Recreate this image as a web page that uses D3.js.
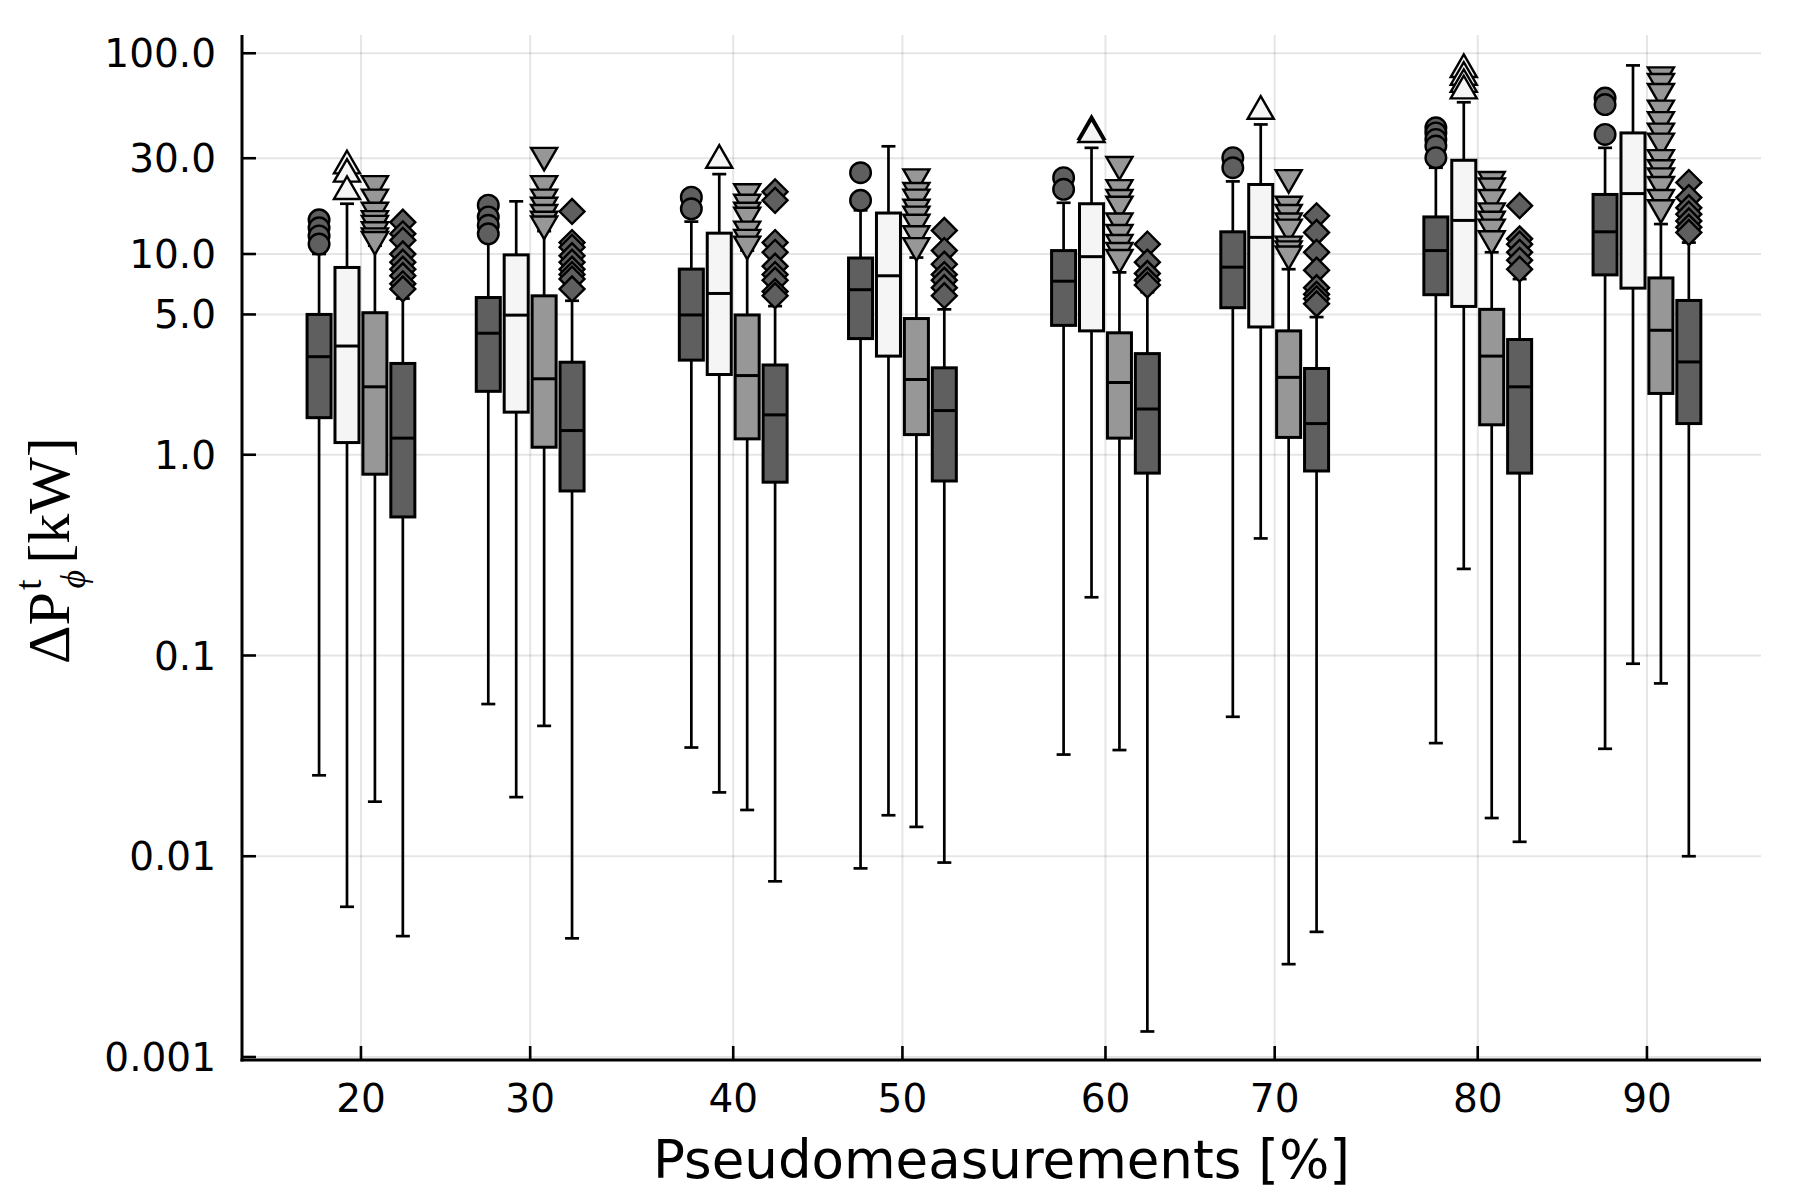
<!DOCTYPE html>
<html>
<head>
<meta charset="utf-8">
<script src="https://cdn.jsdelivr.net/npm/d3@7"></script>
<style>
  html, body { margin: 0; padding: 0; background: #ffffff; }
  svg { display: block; }
</style>
</head>
<body>
<div id="chart"></div>
<script>
// ---------------- data ----------------
const categories = ["20", "30", "40", "50", "60", "70", "80", "90"];
const groupPos = [0, 1, 2.2, 3.2, 4.4, 5.4, 6.6, 7.6];
const yTickValues = [0.001, 0.01, 0.1, 1, 5, 10, 30, 100];
const yTickLabels = ["0.001", "0.01", "0.1", "1.0", "5.0", "10.0", "30.0", "100.0"];
const xLabel = "Pseudomeasurements [%]";

// rows: series 1..4 ; columns: categories
const whiskerLow = [
  [0.0253, 0.0573, 0.0348, 0.0087, 0.0321, 0.0495, 0.0366, 0.0343],
  [0.0056, 0.0197, 0.0208, 0.016, 0.195, 0.383, 0.27, 0.091],
  [0.0187, 0.0446, 0.017, 0.014, 0.0338, 0.0029, 0.0155, 0.0726],
  [0.0040, 0.0039, 0.0075, 0.0093, 0.00134, 0.0042, 0.0118, 0.010]
];
const quartile1 = [
  [1.53, 2.07, 2.96, 3.79, 4.41, 5.4, 6.27, 7.87],
  [1.15, 1.63, 2.51, 3.1, 4.14, 4.33, 5.48, 6.76],
  [0.80, 1.09, 1.2, 1.26, 1.21, 1.22, 1.41, 2.02],
  [0.49, 0.66, 0.73, 0.74, 0.81, 0.83, 0.81, 1.43]
];
const medians = [
  [3.08, 4.03, 4.97, 6.64, 7.32, 8.6, 10.4, 12.9],
  [3.48, 4.96, 6.36, 7.79, 9.7, 12.1, 14.7, 20.0],
  [2.18, 2.39, 2.48, 2.37, 2.29, 2.43, 3.1, 4.17],
  [1.21, 1.32, 1.58, 1.66, 1.69, 1.43, 2.18, 2.9]
];
const quartile3 = [
  [5.0, 6.07, 8.41, 9.55, 10.4, 12.9, 15.3, 19.8],
  [8.57, 9.9, 12.7, 16.0, 17.8, 22.2, 29.3, 40.1],
  [5.1, 6.19, 4.97, 4.77, 4.05, 4.14, 5.3, 7.6],
  [2.85, 2.89, 2.8, 2.71, 3.19, 2.69, 3.75, 5.87]
];
const whiskerHigh = [
  [10.0, 11.6, 14.5, 16.5, 18.0, 23.0, 26.9, 33.8],
  [17.8, 18.3, 25.0, 34.4, 33.8, 44.2, 57.0, 87.0],
  [11.0, 13.0, 10.4, 9.6, 8.1, 8.4, 10.2, 14.1],
  [6.0, 5.85, 5.5, 5.3, 6.45, 4.85, 7.5, 11.4]
];
const outliers1 = [
  [14.8, 13.5, 12.3, 11.2],
  [17.5, 15.3, 13.9, 12.6],
  [19.2, 16.8],
  [25.4, 18.5],
  [24.0, 21.0],
  [30.2, 26.9],
  [42.5, 40.1, 37.2, 34.5, 30.2],
  [59.8, 55.5, 39.4]
];
const outliers2 = [
  [27.5, 25.0, 20.5],
  [],
  [29.3],
  [],
  [40.9, 39.4],
  [51.4],
  [83.0, 76.0, 70.0, 65.0],
  []
];
const outliers3 = [
  [22.4, 19.2, 16.5, 15.0, 14.2, 13.2, 12.3, 11.8],
  [31.0, 22.4, 19.2, 17.5, 16.1, 14.9, 14.1],
  [20.4, 18.1, 16.5, 15.6, 13.3, 12.1, 11.2],
  [24.2, 20.7, 19.2, 17.1, 15.8, 14.4, 12.6, 11.0],
  [27.9, 21.4, 19.1, 17.7, 14.6, 12.8, 11.4, 10.4, 9.6],
  [24.0, 17.7, 16.1, 14.6, 13.6, 11.2, 10.6, 10.0],
  [23.5, 21.8, 19.1, 16.4, 14.9, 13.6, 11.9],
  [78.0, 72.3, 64.5, 53.3, 46.7, 40.9, 36.5, 30.2, 26.9, 24.5, 22.2, 19.1, 17.0]
];
const outliers4 = [
  [14.4, 12.6, 11.7, 10.0, 9.1, 8.4, 7.8, 7.1, 6.7],
  [16.3, 11.4, 10.8, 9.8, 9.1, 8.4, 7.9, 7.5, 6.7],
  [20.4, 18.5, 11.4, 10.2, 8.7, 7.9, 7.4, 6.5, 6.2],
  [13.1, 10.4, 8.9, 7.9, 7.4, 6.8, 6.2],
  [11.2, 9.1, 8.0, 7.4, 7.0],
  [15.5, 12.8, 10.2, 8.3, 6.8, 6.3, 5.98, 5.65],
  [17.4, 11.9, 11.2, 10.2, 9.3, 8.4],
  [22.7, 19.1, 17.0, 15.8, 14.6, 13.6, 12.8]
];
const outliers = [outliers1, outliers2, outliers3, outliers4];

// ---------------- style ----------------
const W = 1800, H = 1200;
const fills = ["#5f5f5f", "#f5f5f5", "#979797", "#5f5f5f"];
const markerKinds = ["circle", "triangleUp", "triangleDown", "diamond"];
const boxWidth = 0.142;     // in x units
const boxStep = 0.165;      // in x units
const capHalf = 7;          // px

const svg = d3.select("#chart").append("svg")
  .attr("width", W).attr("height", H)
  .attr("viewBox", `0 0 ${W} ${H}`)
  .style("background", "#ffffff");

const x = d3.scaleLinear().domain([-0.703, 8.274]).range([242, 1761]);
const y = d3.scaleLog().domain([0.000966, 123.3]).range([1060, 35]);

const plotLeft = x.range()[0], plotRight = x.range()[1];
const plotTop = y.range()[1], plotBottom = y.range()[0];

// grid
const grid = svg.append("g");
grid.selectAll("line.gx").data(groupPos).join("line")
  .attr("x1", d => x(d)).attr("x2", d => x(d))
  .attr("y1", plotTop).attr("y2", plotBottom)
  .attr("stroke", "#000").attr("stroke-opacity", 0.1).attr("stroke-width", 2);
grid.selectAll("line.gy").data(yTickValues).join("line")
  .attr("x1", plotLeft).attr("x2", plotRight)
  .attr("y1", d => y(d)).attr("y2", d => y(d))
  .attr("stroke", "#000").attr("stroke-opacity", 0.1).attr("stroke-width", 2);

// symbols
function markerPath(kind) {
  if (kind === "circle") return d3.symbol(d3.symbolCircle, Math.PI * 10.3 * 10.3)();
  if (kind === "triangleUp" || kind === "triangleDown") return d3.symbol(d3.symbolTriangle, 295)();
  return d3.symbol(d3.symbolSquare, 310)();
}
function markerRotate(kind) {
  if (kind === "triangleDown") return 180;
  if (kind === "diamond") return 45;
  return 0;
}

// boxes
const plotG = svg.append("g");
for (let s = 0; s < 4; s++) {
  const off = (s - 1.5) * boxStep;
  const g = plotG.append("g");
  const idx = d3.range(categories.length);
  // whiskers
  g.selectAll("line.wl").data(idx).join("line")
    .attr("x1", i => x(groupPos[i] + off)).attr("x2", i => x(groupPos[i] + off))
    .attr("y1", i => y(whiskerLow[s][i])).attr("y2", i => y(quartile1[s][i]))
    .attr("stroke", "#000").attr("stroke-width", 2.7);
  g.selectAll("line.wh").data(idx).join("line")
    .attr("x1", i => x(groupPos[i] + off)).attr("x2", i => x(groupPos[i] + off))
    .attr("y1", i => y(whiskerHigh[s][i])).attr("y2", i => y(quartile3[s][i]))
    .attr("stroke", "#000").attr("stroke-width", 2.7);
  g.selectAll("line.cl").data(idx).join("line")
    .attr("x1", i => x(groupPos[i] + off) - capHalf).attr("x2", i => x(groupPos[i] + off) + capHalf)
    .attr("y1", i => y(whiskerLow[s][i])).attr("y2", i => y(whiskerLow[s][i]))
    .attr("stroke", "#000").attr("stroke-width", 2.7);
  g.selectAll("line.ch").data(idx).join("line")
    .attr("x1", i => x(groupPos[i] + off) - capHalf).attr("x2", i => x(groupPos[i] + off) + capHalf)
    .attr("y1", i => y(whiskerHigh[s][i])).attr("y2", i => y(whiskerHigh[s][i]))
    .attr("stroke", "#000").attr("stroke-width", 2.7);
  // box
  g.selectAll("rect").data(idx).join("rect")
    .attr("x", i => x(groupPos[i] + off - boxWidth / 2))
    .attr("width", i => x(groupPos[i] + off + boxWidth / 2) - x(groupPos[i] + off - boxWidth / 2))
    .attr("y", i => y(quartile3[s][i]))
    .attr("height", i => y(quartile1[s][i]) - y(quartile3[s][i]))
    .attr("fill", fills[s]).attr("stroke", "#000").attr("stroke-width", 3);
  g.selectAll("line.med").data(idx).join("line")
    .attr("x1", i => x(groupPos[i] + off - boxWidth / 2)).attr("x2", i => x(groupPos[i] + off + boxWidth / 2))
    .attr("y1", i => y(medians[s][i])).attr("y2", i => y(medians[s][i]))
    .attr("stroke", "#000").attr("stroke-width", 3);
  // outliers
  const pts = [];
  outliers[s].forEach((arr, i) => arr.forEach(v => pts.push({ i, v })));
  const kind = markerKinds[s];
  g.selectAll("path.out").data(pts).join("path")
    .attr("d", markerPath(kind))
    .attr("transform", d => `translate(${x(groupPos[d.i] + off)},${y(d.v)}) rotate(${markerRotate(kind)})`)
    .attr("fill", fills[s]).attr("stroke", "#000").attr("stroke-width", 2.4);
}

// axes
const axG = svg.append("g");
axG.append("line").attr("x1", plotLeft).attr("x2", plotLeft).attr("y1", plotTop).attr("y2", plotBottom + 1.5)
  .attr("stroke", "#000").attr("stroke-width", 3);
axG.append("line").attr("x1", plotLeft - 1.5).attr("x2", plotRight).attr("y1", plotBottom).attr("y2", plotBottom)
  .attr("stroke", "#000").attr("stroke-width", 3);
// y ticks (inward)
axG.selectAll("line.yt").data(yTickValues).join("line")
  .attr("x1", plotLeft).attr("x2", plotLeft + 14)
  .attr("y1", d => y(d)).attr("y2", d => y(d))
  .attr("stroke", "#000").attr("stroke-width", 2.6);
axG.selectAll("text.yl").data(yTickValues).join("text")
  .attr("x", plotLeft - 26).attr("y", d => y(d))
  .attr("dy", "0.36em")
  .attr("text-anchor", "end")
  .attr("font-family", "DejaVu Sans")
  .attr("font-size", 39)
  .attr("fill", "#000")
  .text((d, i) => yTickLabels[i]);
// x ticks (inward)
axG.selectAll("line.xt").data(groupPos).join("line")
  .attr("x1", d => x(d)).attr("x2", d => x(d))
  .attr("y1", plotBottom).attr("y2", plotBottom - 14)
  .attr("stroke", "#000").attr("stroke-width", 2.6);
axG.selectAll("text.xl").data(groupPos).join("text")
  .attr("x", d => x(d)).attr("y", plotBottom + 52)
  .attr("text-anchor", "middle")
  .attr("font-family", "DejaVu Sans")
  .attr("font-size", 39)
  .attr("fill", "#000")
  .text((d, i) => categories[i]);

// x label
svg.append("text")
  .attr("x", (plotLeft + plotRight) / 2).attr("y", 1178)
  .attr("text-anchor", "middle")
  .attr("font-family", "DejaVu Sans")
  .attr("font-size", 53)
  .attr("fill", "#000")
  .text(xLabel);

// y label  ΔP_ϕ^t [kW]
const yl = svg.append("text")
  .attr("transform", "translate(69,664) rotate(-90)")
  .attr("text-anchor", "start")
  .attr("font-family", "Liberation Serif, DejaVu Serif, serif")
  .attr("font-size", 60)
  .attr("fill", "#000");
yl.append("tspan").text("ΔP");
yl.append("tspan").attr("font-size", 38).attr("dy", -28).attr("dx", 2).text("t");
yl.append("tspan").attr("font-size", 36).attr("font-style", "italic").attr("dy", 44).attr("dx", -9).text("ϕ");
yl.append("tspan").attr("dy", -16).attr("dx", 6).text("[kW]");
</script>
</body>
</html>
